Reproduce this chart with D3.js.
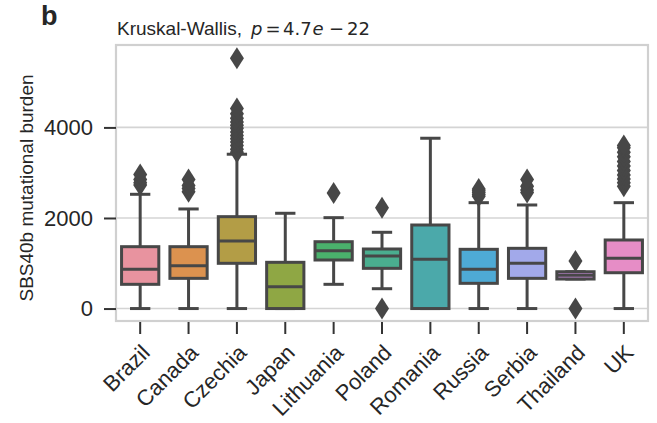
<!DOCTYPE html>
<html>
<head>
<meta charset="utf-8">
<script src="https://cdn.jsdelivr.net/npm/d3@7"></script>
<style>
    body { margin: 0; background: #fff; }
    text { font-family: "Liberation Sans", Arial, sans-serif; fill: #262626; }
</style>
</head>
<body>
<div id="chartArea"></div>
<script>
// data
var countries = ['Brazil', 'Canada', 'Czechia', 'Japan', 'Lithuania', 'Poland',
    'Romania', 'Russia', 'Serbia', 'Thailand', 'UK'];
var q1      = [535, 667, 999, 0, 1072, 888, 0, 557, 667, 652, 791];
var medians = [866, 946, 1492, 482, 1278, 1160, 1087, 866, 999, 734, 1109];
var q3      = [1366, 1366, 2029, 1021, 1476, 1315, 1845, 1308, 1330, 813, 1514];
var whiskLo = [0, 0, 0, 0, 535, 438, 0, 0, 0, 652, 0];
var whiskHi = [2523, 2199, 3408, 2104, 2007, 1684, 3761, 2338, 2287, 813, 2338];
var fliers = [
    [2730, 2780, 2850, 2960],
    [2580, 2650, 2720, 2850],
    [3450, 3520, 3600, 3680, 3750, 3820, 3900, 3980, 4050, 4120, 4200, 4300, 4420, 5530],
    [],
    [2552],
    [0, 2228],
    [],
    [2480, 2520, 2560, 2600, 2640],
    [2560, 2620, 2700, 2850],
    [0, 1050],
    [2700, 2780, 2860, 2950, 3050, 3150, 3250, 3350, 3450, 3550, 3600]
];
var yTicks = [0, 2000, 4000];
var colors = ['#e8939f', '#dc924f', '#b39d46', '#8fa744', '#4ab16c', '#4aae8f',
    '#4ba9aa', '#4eaad5', '#a2a9ea', '#c58ad8', '#e68dc6'];

var W = 657, H = 423;
var margin = {top: 45, right: 9, bottom: 102, left: 116};
var w = W - margin.left - margin.right,
    h = H - margin.top - margin.bottom;
var lineCol = '#474747';

var svg = d3.select('#chartArea').append('svg')
    .attr('width', W)
    .attr('height', H);

var g = svg.append('g')
    .attr('transform', 'translate(' + margin.left + ',' + margin.top + ')');

var xScale = d3.scaleBand()
    .domain(countries)
    .range([0, w]);

var yScale = d3.scaleLinear()
    .domain([-275, 5820])
    .range([h, 0]);

var bw = xScale.bandwidth();
var boxW = bw * 0.77, capW = bw * 0.42;

// grid
g.selectAll('.grid')
    .data(yTicks)
    .enter()
    .append('line')
    .attr('x1', 0).attr('x2', w)
    .attr('y1', function (d) { return yScale(d); })
    .attr('y2', function (d) { return yScale(d); })
    .attr('stroke', '#d4d4d4')
    .attr('stroke-width', 1.6);

// frame
g.append('rect')
    .attr('x', 0).attr('y', 0)
    .attr('width', w).attr('height', h)
    .attr('fill', 'none')
    .attr('stroke', '#d0d0d0')
    .attr('stroke-width', 2.2);

var boxes = g.selectAll('.box')
    .data(countries)
    .enter()
    .append('g')
    .attr('class', 'box')
    .attr('transform', function (d) {
        return 'translate(' + (xScale(d) + bw / 2) + ',0)';
    });

// whiskers
boxes.append('line')
    .attr('y1', function (d, i) { return yScale(q3[i]); })
    .attr('y2', function (d, i) { return yScale(whiskHi[i]); })
    .attr('stroke', lineCol).attr('stroke-width', 3);
boxes.append('line')
    .attr('y1', function (d, i) { return yScale(q1[i]); })
    .attr('y2', function (d, i) { return yScale(whiskLo[i]); })
    .attr('stroke', lineCol).attr('stroke-width', 3);
[whiskHi, whiskLo].forEach(function (arr) {
    boxes.append('line')
        .attr('x1', -capW / 2).attr('x2', capW / 2)
        .attr('y1', function (d, i) { return yScale(arr[i]); })
        .attr('y2', function (d, i) { return yScale(arr[i]); })
        .attr('stroke', lineCol).attr('stroke-width', 3);
});

boxes.append('rect')
    .attr('x', -boxW / 2)
    .attr('width', boxW)
    .attr('y', function (d, i) { return yScale(q3[i]); })
    .attr('height', function (d, i) { return yScale(q1[i]) - yScale(q3[i]); })
    .attr('fill', function (d, i) { return colors[i]; })
    .attr('stroke', lineCol)
    .attr('stroke-width', 3);

boxes.append('line')
    .attr('x1', -boxW / 2).attr('x2', boxW / 2)
    .attr('y1', function (d, i) { return yScale(medians[i]); })
    .attr('y2', function (d, i) { return yScale(medians[i]); })
    .attr('stroke', lineCol).attr('stroke-width', 3);

// outliers, thin diamonds
boxes.selectAll('.flier')
    .data(function (d, i) { return fliers[i]; })
    .enter()
    .append('path')
    .attr('d', 'M0,-11L7,0L0,11L-7,0Z')
    .attr('transform', function (v) { return 'translate(0,' + yScale(v) + ')'; })
    .attr('fill', lineCol);

// axes
var yAxis = g.append('g')
    .call(d3.axisLeft(yScale).tickValues(yTicks).tickSize(12).tickPadding(11).tickFormat(d3.format('d')));
yAxis.select('.domain').remove();
yAxis.selectAll('line').attr('stroke', '#333').attr('stroke-width', 2);
yAxis.selectAll('text').attr('font-size', 22).attr('fill', '#262626')
    .style('font-family', '"Liberation Sans", Arial, sans-serif');

var xAxis = g.append('g')
    .attr('transform', 'translate(0,' + (h + 1) + ')')
    .call(d3.axisBottom(xScale).tickSize(12).tickFormat(''));
xAxis.select('.domain').remove();
xAxis.selectAll('line').attr('stroke', '#333').attr('stroke-width', 2);

g.selectAll('.xlab')
    .data(countries)
    .enter()
    .append('text')
    .attr('text-anchor', 'end')
    .attr('font-size', 22)
    .attr('transform', function (d) {
        return 'translate(' + (xScale(d) + bw / 2 + 11) + ',' + (h + 33) + ') rotate(-45)';
    })
    .text(function (d) { return d; });

// y label
svg.append('text')
    .attr('transform', 'translate(33,188) rotate(-90)')
    .attr('text-anchor', 'middle')
    .attr('font-size', 19)
    .text('SBS40b mutational burden');

// title, math part in DejaVu like matplotlib mathtext
var title = svg.append('text')
    .attr('x', 117).attr('y', 35)
    .attr('font-size', 18);
title.append('tspan').attr('font-size', 19).text('Kruskal-Wallis,');
var mathParts = [
    {t: 'p', x: 251, it: true},
    {t: '=', x: 265.5, it: false},
    {t: '4.7', x: 283, it: false},
    {t: 'e', x: 312.5, it: true},
    {t: '\u2212', x: 329, it: false},
    {t: '22', x: 347, it: false}
];
mathParts.forEach(function (m) {
    title.append('tspan')
        .attr('x', m.x)
        .style('font-family', '"DejaVu Sans", sans-serif')
        .attr('font-style', m.it ? 'italic' : 'normal')
        .text(m.t);
});

svg.append('text')
    .attr('x', 41).attr('y', 25)
    .attr('font-size', 27)
    .attr('font-weight', 'bold')
    .text('b');
</script>
</body>
</html>
